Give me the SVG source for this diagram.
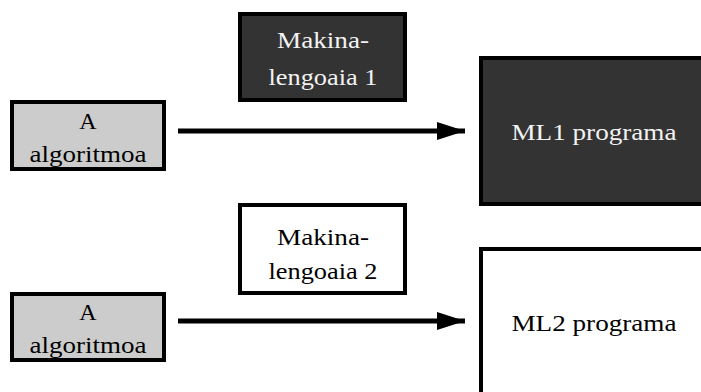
<svg xmlns="http://www.w3.org/2000/svg" width="701" height="392" viewBox="0 0 701 392">
  <defs>
    <style>
      .box { stroke: #000; stroke-width: 4; }
      .algo { fill: #cccccc; }
      .dark { fill: #333333; }
      .light { fill: #ffffff; }
      .lbl-dark { fill: #000; }
      .lbl-light { fill: #f2f2f2; }
      .edge { stroke: #000; stroke-width: 5; fill: none; }
    </style>
    <marker id="arrowhead" markerUnits="userSpaceOnUse" markerWidth="30" markerHeight="20" refX="28" refY="9" orient="auto">
      <path d="M0,0 L28,9 L0,18 Z" fill="#000"/>
    </marker>
  </defs>

  <!-- connectors -->
  <g id="connectors">
    <line class="edge" x1="178" y1="131" x2="465" y2="131" marker-end="url(#arrowhead)"/>
    <line class="edge" x1="178" y1="321" x2="465" y2="321" marker-end="url(#arrowhead)"/>
  </g>

  <g font-family="Liberation Serif, Times New Roman, serif" font-size="24" text-anchor="middle">
    <!-- algorithm, top row -->
    <g id="algo1">
      <rect class="box algo" x="12" y="102" width="152" height="67"/>
      <text class="lbl-dark" x="88" y="129">A</text>
      <text class="lbl-dark" x="88" y="162" textLength="117" lengthAdjust="spacingAndGlyphs">algoritmoa</text>
    </g>

    <!-- machine language 1 -->
    <g id="ml1lang">
      <rect class="box dark" x="240" y="14" width="165" height="86"/>
      <text class="lbl-light" x="323" y="48" textLength="92" lengthAdjust="spacingAndGlyphs">Makina-</text>
      <text class="lbl-light" x="323" y="85" textLength="109" lengthAdjust="spacingAndGlyphs">lengoaia 1</text>
    </g>

    <!-- ML1 program -->
    <g id="ml1prog">
      <rect class="box dark" x="481" y="58" width="260" height="146"/>
      <text class="lbl-light" x="594" y="140" textLength="165" lengthAdjust="spacingAndGlyphs">ML1 programa</text>
    </g>

    <!-- algorithm, bottom row -->
    <g id="algo2">
      <rect class="box algo" x="12" y="294" width="152" height="66"/>
      <text class="lbl-dark" x="88" y="320">A</text>
      <text class="lbl-dark" x="88" y="353" textLength="117" lengthAdjust="spacingAndGlyphs">algoritmoa</text>
    </g>

    <!-- machine language 2 -->
    <g id="ml2lang">
      <rect class="box light" x="240" y="205" width="165" height="88"/>
      <text class="lbl-dark" x="323" y="245" textLength="92" lengthAdjust="spacingAndGlyphs">Makina-</text>
      <text class="lbl-dark" x="323" y="279" textLength="109" lengthAdjust="spacingAndGlyphs">lengoaia 2</text>
    </g>

    <!-- ML2 program -->
    <g id="ml2prog">
      <rect class="box light" x="481" y="249" width="260" height="180"/>
      <text class="lbl-dark" x="594" y="331" textLength="165" lengthAdjust="spacingAndGlyphs">ML2 programa</text>
    </g>
  </g>
</svg>
